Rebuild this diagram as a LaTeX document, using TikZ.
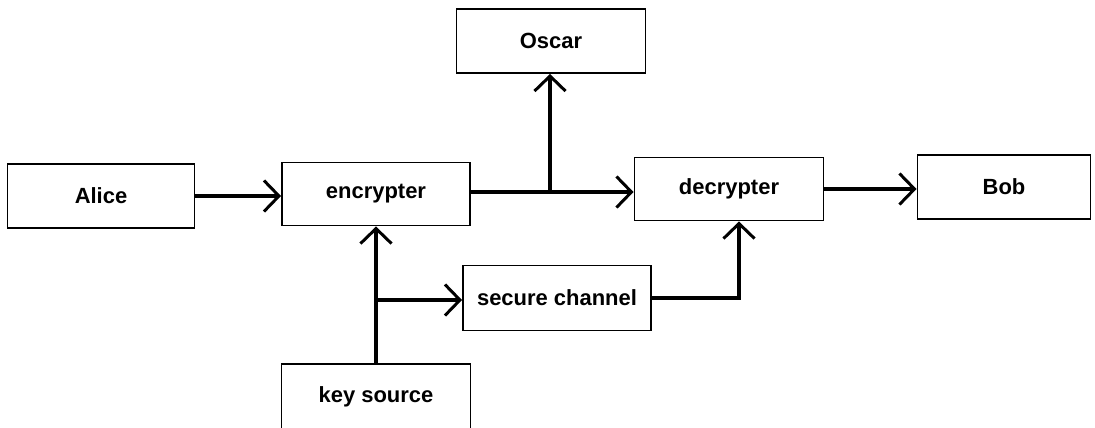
\documentclass[tikz,border=0pt]{standalone}
\usepackage{fontspec}
\setmainfont{Liberation Sans}
\usetikzlibrary{arrows.meta}

\tikzset{
  box/.style={draw, line width=1.1pt, inner sep=0pt,
    font=\fontsize{12.5}{14}\selectfont\bfseries},
  arr/.style={line width=2.8pt,
    -{Straight Barb[length=0.3cm, width=0.62cm, line width=1.7pt]}},
}

\begin{document}
\begin{tikzpicture}[x=0.02cm, y=-0.02cm]
\useasboundingbox (0,0) rectangle (1095,427);
\node [box, minimum width=3.74cm, minimum height=1.28cm] (alice) at (101,196) {Alice};
\node [box, minimum width=3.76cm, minimum height=1.26cm] (encrypter) at (376,194) {encrypter};
\node [box, minimum width=3.78cm, minimum height=1.28cm] (oscar) at (551,41) {Oscar};
\node [box, minimum width=3.78cm, minimum height=1.26cm] (decrypter) at (729,189) {decrypter};
\node [box, minimum width=3.46cm, minimum height=1.28cm] (bob) at (1004,187) {Bob};
\node [box, minimum width=3.76cm, minimum height=1.30cm] (secure) at (557,298) {secure channel};
\node [box, minimum width=3.78cm, minimum height=1.32cm] (keysource) at (376,397) {key source};

\coordinate (tap) at (550,192);
\coordinate (split) at (376,300);

\draw [arr] (alice.east) -- (alice.east -| encrypter.west);
\draw [line width=2.8pt] (encrypter.east |- tap) -- (tap);
\draw [arr] (tap) -- (tap -| decrypter.west);
\draw [arr] (tap) -- (tap |- oscar.south);
\draw [arr] (decrypter.east) -- (decrypter.east -| bob.west);
\draw [arr] (keysource.north) -- (encrypter.south);
\draw [arr] (split) -- (split -| secure.west);
\draw [arr] (secure.east) -| ([xshift=0.2cm]decrypter.south);
\end{tikzpicture}
\end{document}
